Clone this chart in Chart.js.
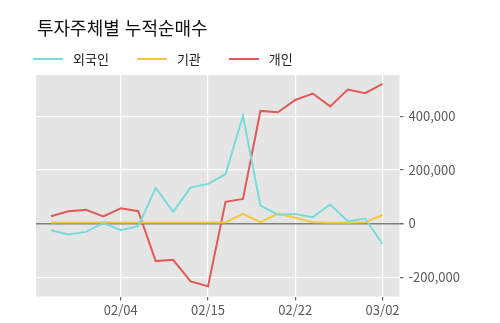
<!DOCTYPE html>
<html lang="ko">
<head>
  <meta charset="UTF-8" />
  <title>투자주체별 누적순매수</title>
  <script src="https://cdn.jsdelivr.net/npm/chart.js"></script>
  <style>
    body {
      margin: 0;
      padding: 0;
      background: white;
      font-family: "Noto Sans CJK KR", "Noto Sans", sans-serif;
    }
    .wrap {
      position: relative;
      width: 500px;
      height: 323px;
    }
    .title {
      position: absolute;
      left: 37px;
      top: 15px;
      font-size: 18px;
      line-height: 24px;
      color: #111;
    }
    .legend {
      position: absolute;
      left: 33px;
      top: 50px;
      display: flex;
      gap: 28px;
      font-size: 13px;
      line-height: 18px;
      color: #222;
    }
    .legend .item {
      display: flex;
      align-items: center;
    }
    .legend .swatch {
      display: inline-block;
      width: 30px;
      height: 2px;
      margin-right: 10px;
    }
    canvas {
      position: absolute;
      left: 0;
      top: 0;
    }
  </style>
</head>
<body>

<div class="wrap">
  <canvas id="chart" width="500" height="323"></canvas>
  <div class="title">투자주체별 누적순매수</div>
  <div class="legend" id="legend"></div>
</div>

<script>
// trading days (2021)
const dates = ["01/29", "02/01", "02/02", "02/03", "02/04", "02/05", "02/08", "02/09", "02/10", "02/15",
               "02/16", "02/17", "02/18", "02/19", "02/22", "02/23", "02/24", "02/25", "02/26", "03/02"];

const seriesNames = ["외국인", "기관", "개인"];
const seriesColors = ["#79dcdc", "#f5c842", "#e05a5a"];

const foreign = [-25000, -41000, -31000, 2000, -25000, -10000, 133000, 44000, 134000, 148000,
                 184000, 402000, 67000, 33000, 36000, 24000, 71000, 9000, 19000, -76000];
const institution = [4000, 4000, 4000, 4000, 4000, 4000, 4000, 4000, 4000, 4000,
                     4000, 36000, 5000, 37000, 22000, 5000, 3000, 3000, 5000, 32000];
const individual = [27000, 46000, 51000, 27000, 57000, 46000, -140000, -135000, -216000, -234000,
                    81000, 92000, 420000, 415000, 461000, 485000, 437000, 500000, 486000, 521000];

const xTickIdx = [4, 9, 14, 19];
const yTicks = [-200000, 0, 200000, 400000];

const seriesValues = [foreign, institution, individual];

// legend (html)
const legendEl = document.getElementById("legend");
seriesNames.forEach((name, i) => {
  const item = document.createElement("div");
  item.className = "item";
  item.innerHTML = `<span class="swatch" style="background:${seriesColors[i]}"></span><span>${name}</span>`;
  legendEl.appendChild(item);
});

const panelBg = {
  id: "panelBg",
  beforeDraw(chart) {
    const a = chart.chartArea;
    const ctx = chart.ctx;
    ctx.save();
    ctx.fillStyle = "#e5e5e5";
    ctx.fillRect(a.left, a.top, a.right - a.left, a.bottom - a.top);
    ctx.restore();
  }
};

const tickFont = { family: "'Noto Sans CJK KR', 'Noto Sans', sans-serif", size: 13 };

new Chart(document.getElementById("chart"), {
  type: "line",
  data: {
    datasets: seriesNames.map((name, i) => ({
      label: name,
      data: seriesValues[i].map((v, j) => ({ x: j, y: v })),
      borderColor: seriesColors[i],
      backgroundColor: seriesColors[i],
      borderWidth: 2,
      pointRadius: 0,
      tension: 0,
      fill: false
    }))
  },
  options: {
    responsive: false,
    animation: false,
    layout: { padding: { left: 36, top: 75, right: 0, bottom: 0 } },
    plugins: {
      legend: { display: false },
      title: { display: false },
      tooltip: { enabled: false }
    },
    scales: {
      x: {
        type: "linear",
        min: -0.86,
        max: 19.97,
        afterBuildTicks: axis => { axis.ticks = xTickIdx.map(v => ({ value: v })); },
        afterFit: axis => { axis.height = 26.5; },
        grid: {
          color: "#ffffff",
          lineWidth: 1.2,
          tickColor: "#666",
          tickLength: 4,
          drawTicks: true
        },
        border: { display: false },
        ticks: {
          color: "#5a5a5a",
          font: tickFont,
          padding: 2,
          maxRotation: 0,
          autoSkip: false,
          callback: v => dates[v]
        }
      },
      y: {
        position: "right",
        min: -272000,
        max: 554000,
        afterBuildTicks: axis => { axis.ticks = yTicks.map(v => ({ value: v })); },
        afterFit: axis => { axis.width = 100.5; },
        grid: {
          color: ctx => ctx.tick && ctx.tick.value === 0 ? "#7f7f7f" : "#ffffff",
          lineWidth: ctx => ctx.tick && ctx.tick.value === 0 ? 1.5 : 1.2,
          tickColor: "#666",
          tickLength: 4
        },
        border: { display: false },
        ticks: {
          color: "#5a5a5a",
          font: tickFont,
          padding: 5,
          callback: v => v.toLocaleString("en-US")
        }
      }
    }
  },
  plugins: [panelBg]
});
</script>

</body>
</html>
